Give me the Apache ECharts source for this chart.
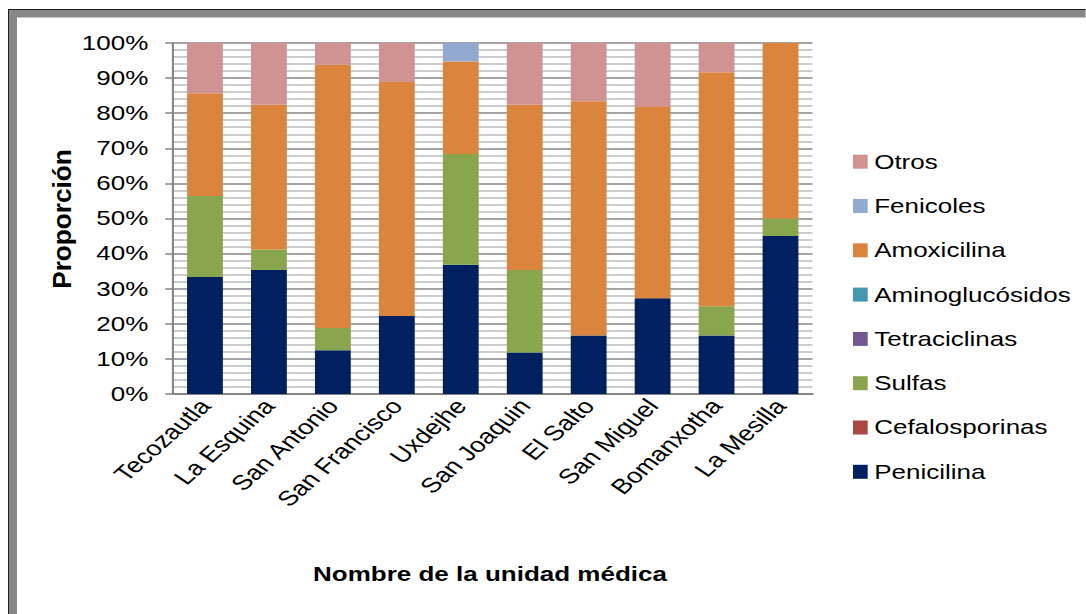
<!DOCTYPE html>
<html>
<head>
<meta charset="utf-8">
<script src="https://cdn.jsdelivr.net/npm/echarts@6/dist/echarts.min.js"></script>
<style>
  html, body { margin: 0; padding: 0; background: #fff; overflow: hidden; }
  #wrap { width: 1086px; height: 614px; position: relative; overflow: hidden; }
  /* the chart is laid out narrow and widened horizontally, like the original sheet */
  #chart { width: 835.4px; height: 614px; transform: scaleX(1.3); transform-origin: 0 0; }
</style>
</head>
<body>
<div id="wrap"><div id="chart"></div></div>
<script>
// Unidades médicas
const categories = ['Tecozautla', 'La Esquina', 'San Antonio', 'San Francisco', 'Uxdejhe',
  'San Joaquin', 'El Salto', 'San Miguel', 'Bomanxotha', 'La Mesilla'];

// Proporción (%) de cada grupo de antibióticos por unidad
const penicilina      = [33.3, 35.3, 12.5, 22.2, 36.8, 11.8, 16.7, 27.3, 16.7, 45.0];
const cefalosporinas  = [0, 0, 0, 0, 0, 0, 0, 0, 0, 0];
const sulfas          = [23.1, 5.9, 6.3, 0, 31.6, 23.5, 0, 0, 8.3, 5.0];
const tetraciclinas   = [0, 0, 0, 0, 0, 0, 0, 0, 0, 0];
const aminoglucosidos = [0, 0, 0, 0, 0, 0, 0, 0, 0, 0];
const amoxicilina     = [29.3, 41.2, 75.0, 66.7, 26.3, 47.1, 66.7, 54.5, 66.7, 50.0];
const fenicoles       = [0, 0, 0, 0, 5.3, 0, 0, 0, 0, 0];
const otros           = [14.3, 17.6, 6.2, 11.1, 0, 17.6, 16.6, 18.2, 8.3, 0];

const seriesDefs = [
  { name: 'Penicilina',      data: penicilina,      color: '#00205F' },
  { name: 'Cefalosporinas',  data: cefalosporinas,  color: '#AA4643' },
  { name: 'Sulfas',          data: sulfas,          color: '#89A54E' },
  { name: 'Tetraciclinas',   data: tetraciclinas,   color: '#71588F' },
  { name: 'Aminoglucósidos', data: aminoglucosidos, color: '#4198AF' },
  { name: 'Amoxicilina',     data: amoxicilina,     color: '#DB843D' },
  { name: 'Fenicoles',       data: fenicoles,       color: '#93A9CF' },
  { name: 'Otros',           data: otros,           color: '#D19392' }
];

const FONT = "'Liberation Sans', Arial, sans-serif";
const SX = 1.3; // horizontal widening applied to the chart container

const chart = echarts.init(document.getElementById('chart'), null, { renderer: 'svg' });

chart.setOption({
  animation: false,
  backgroundColor: '#ffffff',
  textStyle: { fontFamily: FONT },
  grid: { left: 173 / SX, right: 835.4 - 813 / SX, top: 43, bottom: 614 - 394 },
  legend: {
    orient: 'vertical',
    left: 853 / SX,
    top: 151.7,
    padding: 0,
    itemWidth: 11.3,
    itemHeight: 14,
    itemGap: 24.3,
    icon: 'rect',
    data: seriesDefs.map(s => s.name).reverse(),
    textStyle: { fontSize: 20, lineHeight: 20, color: '#000', fontFamily: FONT }
  },
  xAxis: {
    type: 'category',
    data: categories,
    axisLine: { lineStyle: { color: '#868686', width: 2 } },
    axisTick: { show: false },
    axisLabel: { rotate: 49, fontSize: 21, color: '#000', margin: 8, interval: 0, fontFamily: FONT },
    splitLine: { show: false }
  },
  yAxis: {
    type: 'value',
    min: 0,
    max: 100,
    interval: 10,
    axisLine: { show: true, lineStyle: { color: '#868686', width: 1.6 } },
    axisTick: { show: true, length: 6, lineStyle: { color: '#868686', width: 1.5 } },
    axisLabel: { formatter: '{value}%', fontSize: 20, color: '#000', margin: 19, fontFamily: FONT },
    splitLine: { show: true, lineStyle: { color: '#868686', width: 1.5 } },
    minorTick: { show: false, splitNumber: 5 },
    minorSplitLine: { show: true, lineStyle: { color: '#BDBDBD', width: 1.5 } }
  },
  series: seriesDefs.map(s => ({
    name: s.name,
    type: 'bar',
    stack: 'total',
    barWidth: '56%',
    data: s.data,
    itemStyle: { color: s.color }
  })),
  graphic: [
    // marco de la hoja
    { type: 'rect', silent: true, shape: { x: 8 / SX, y: 9, width: 1100, height: 1 }, style: { fill: '#1E1E1E' } },
    { type: 'rect', silent: true, shape: { x: 8 / SX, y: 10, width: 1100, height: 7.5 }, style: { fill: '#888888' } },
    { type: 'rect', silent: true, shape: { x: 8 / SX, y: 9, width: 1 / SX, height: 620 }, style: { fill: '#1E1E1E' } },
    { type: 'rect', silent: true, shape: { x: 9 / SX, y: 10, width: 8 / SX, height: 620 }, style: { fill: '#888888' } },
    // títulos de los ejes
    {
      type: 'text', silent: true,
      x: 62 / SX, y: 219,
      rotation: Math.PI / 2,
      scaleX: 1.31,
      style: { text: 'Proporción', font: 'bold 20px ' + FONT, fill: '#000', align: 'center', verticalAlign: 'middle' }
    },
    {
      type: 'text', silent: true,
      x: 490 / SX, y: 574,
      style: { text: 'Nombre de la unidad médica', font: 'bold 20px ' + FONT, fill: '#000', align: 'center', verticalAlign: 'middle' }
    }
  ]
});
</script>
</body>
</html>
